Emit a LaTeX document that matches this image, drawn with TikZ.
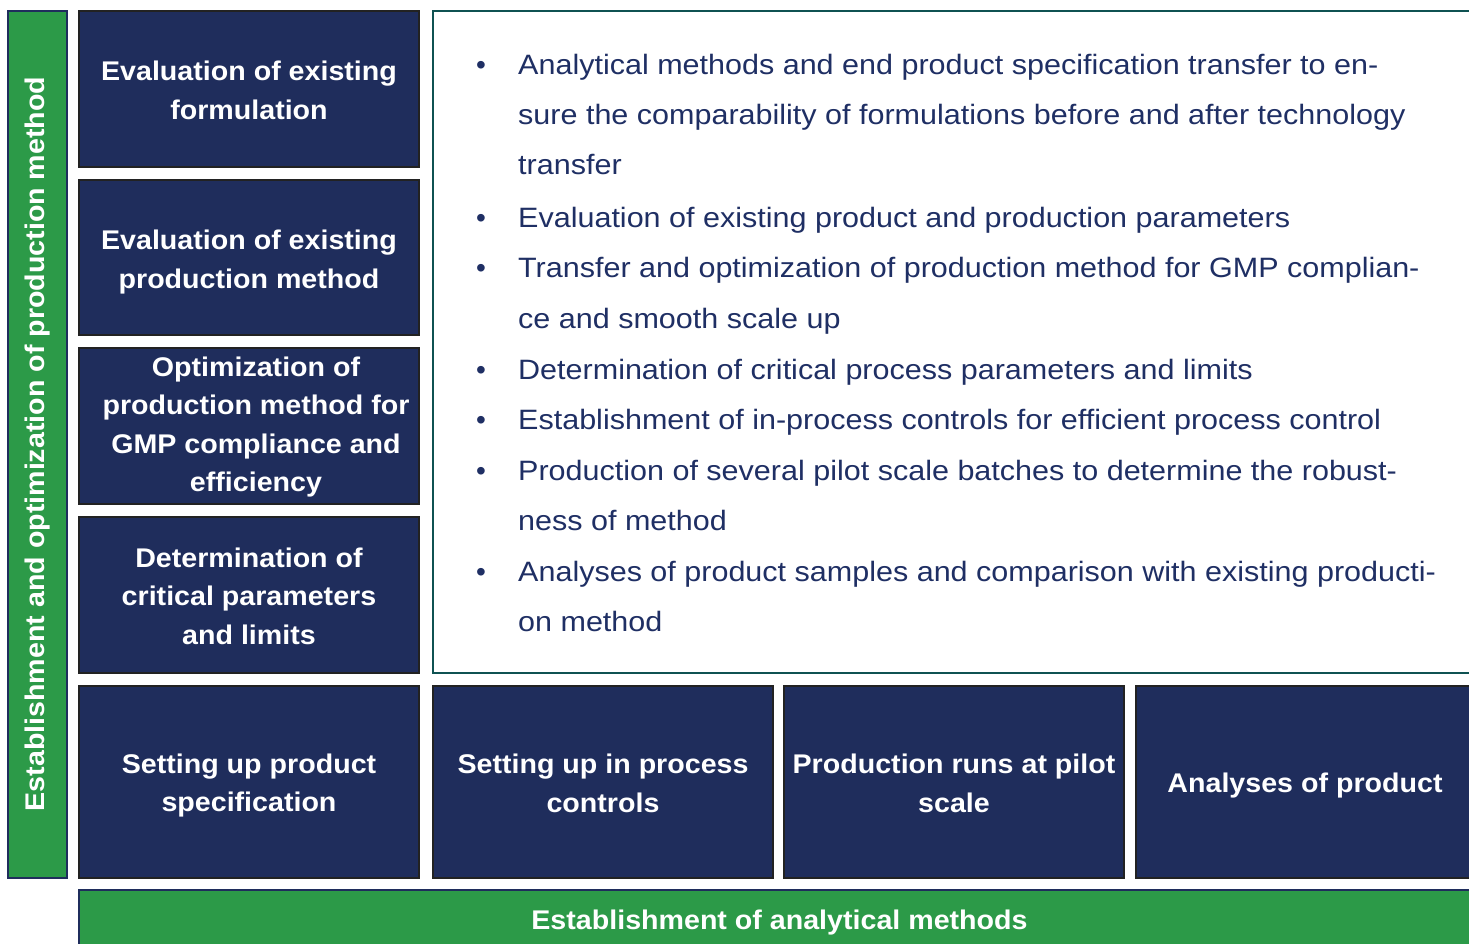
\documentclass[tikz,border=0pt]{standalone}
\usepackage{fontspec}
\setmainfont{Liberation Sans}
\newfontfamily\listfont[FakeStretch=1.09]{Liberation Sans}
\newfontfamily\titlefont[FakeStretch=1.06]{Liberation Sans}
\definecolor{navy}{HTML}{1F2D5C}
\definecolor{boxedge}{HTML}{222222}
\definecolor{grn}{HTML}{2C9A48}
\definecolor{teal}{HTML}{0F5252}
\definecolor{listtxt}{HTML}{1F2F64}
\begin{document}
\begin{tikzpicture}[x=1pt,y=-1pt,
  navybox/.style={draw=boxedge, line width=2pt, fill=navy, inner sep=0pt},
  greenbar/.style={draw=navy, line width=1.2pt, fill=grn, inner sep=0pt},
  titletxt/.style={text=white, inner sep=0pt, align=center,
    font=\titlefont\bfseries\fontsize{27}{38.5}\selectfont},
  listline/.style={anchor=base west, inner sep=0pt, text=listtxt, font=\listfont\fontsize{28}{34}\selectfont},
  bulletmark/.style={anchor=base, inner sep=0pt, text=listtxt, font=\fontsize{28}{34}\selectfont}
]
\clip (0,0) rectangle (1469,944);
\fill[white] (0,0) rectangle (1469,944);

% left vertical bar
\node[greenbar, minimum width=59pt, minimum height=867pt] (side) at (37.5,444.5) {};
\node[titletxt, rotate=90] (sidetxt) at (38,444) {Establishment and optimization of production method};

% left column
\node[navybox, minimum width=340pt, minimum height=156pt] (b1) at (249,89) {};
\node[navybox, minimum width=340pt, minimum height=155pt] (b2) at (249,257.5) {};
\node[navybox, minimum width=340pt, minimum height=156pt] (b3) at (249,426) {};
\node[navybox, minimum width=340pt, minimum height=156pt] (b4) at (249,595) {};
\node[titletxt] (b1t) at ([yshift=-1.5pt]b1.center) {Evaluation of existing\\formulation};
\node[titletxt] (b2t) at ([yshift=-4.5pt]b2.center) {Evaluation of existing\\production method};
\node[titletxt] (b3t) at ([xshift=7pt,yshift=-1pt]b3.center) {Optimization of\\production method for\\GMP compliance and\\efficiency};
\node[titletxt] (b4t) at ([yshift=-1pt]b4.center) {Determination of\\critical parameters\\and limits};

% bottom row
\node[navybox, minimum width=340pt, minimum height=192pt] (b5) at (249,782) {};
\node[navybox, minimum width=340pt, minimum height=192pt] (b6) at (603,782) {};
\node[navybox, minimum width=340pt, minimum height=192pt] (b7) at (954,782) {};
\node[navybox, minimum width=344pt, minimum height=192pt] (b8) at (1308,782) {};
\node[titletxt] (b5t) at ([yshift=-3.5pt]b5.center) {Setting up product\\specification};
\node[titletxt] (b6t) at ([yshift=-1.5pt]b6.center) {Setting up in process\\controls};
\node[titletxt] (b7t) at ([yshift=-1.5pt]b7.center) {Production runs at pilot\\scale};
\node[titletxt] (b8t) at ([xshift=-3pt,yshift=-3.5pt]b8.center) {Analyses of product};

% bottom green bar
\node[greenbar, minimum width=1401pt, minimum height=60pt] (bottom) at (779.5,920) {};
\node[titletxt] (bottomtxt) at ([yshift=-3pt]bottom.center) {Establishment of analytical methods};

% text box
\node[draw=teal, line width=2pt, fill=white, minimum width=1047pt, minimum height=662pt, inner sep=0pt] (tbox) at (956.5,342) {};

% bullets
\node[bulletmark] (m1) at (481,75) {\textbullet};
\node[bulletmark] (m2) at (481,227) {\textbullet};
\node[bulletmark] (m3) at (481,277) {\textbullet};
\node[bulletmark] (m4) at (481,379) {\textbullet};
\node[bulletmark] (m5) at (481,429) {\textbullet};
\node[bulletmark] (m6) at (481,480) {\textbullet};
\node[bulletmark] (m7) at (481,581) {\textbullet};

% list lines
\node[listline] (l1) at (518,75) {Analytical methods and end product specification transfer to en-};
\node[listline] (l2) at (518,125) {sure the comparability of formulations before and after technology};
\node[listline] (l3) at (518,175) {transfer};
\node[listline] (l4) at (518,227) {Evaluation of existing product and production parameters};
\node[listline] (l5) at (518,277) {Transfer and optimization of production method for GMP complian-};
\node[listline] (l6) at (518,328) {ce and smooth scale up};
\node[listline] (l7) at (518,379) {Determination of critical process parameters and limits};
\node[listline] (l8) at (518,429) {Establishment of in-process controls for efficient process control};
\node[listline] (l9) at (518,480) {Production of several pilot scale batches to determine the robust-};
\node[listline] (l10) at (518,530) {ness of method};
\node[listline] (l11) at (518,581) {Analyses of product samples and comparison with existing producti-};
\node[listline] (l12) at (518,631) {on method};
\end{tikzpicture}
\end{document}
